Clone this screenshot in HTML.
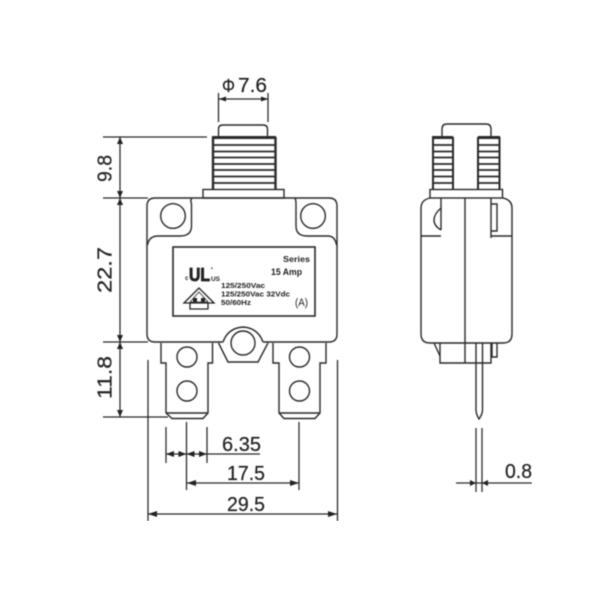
<!DOCTYPE html>
<html><head><meta charset="utf-8">
<style>html,body{margin:0;padding:0;background:#fff;width:600px;height:600px;overflow:hidden}svg{display:block}
text{font-family:"Liberation Sans",sans-serif;fill:#222}</style></head>
<body>
<svg width="600" height="600" viewBox="0 0 600 600" xmlns="http://www.w3.org/2000/svg">
<defs><filter id="b" x="0" y="0" width="100%" height="100%"><feGaussianBlur stdDeviation="0.4"/></filter></defs>
<rect width="600" height="600" fill="#fff"/>
<g filter="url(#b)">
<g fill="none" stroke="#2a2a2a" stroke-width="1.400">
<!-- left view button -->
<path d="M218.500 137V129Q218.500 125 223 125H263Q267.500 125 267.500 129V137"/>
<!-- thread -->
<path d="M213 137V189M275.500 137V189" stroke-width="2.400"/>
<path d="M212 137.500H276" stroke-width="3"/>
<path d="M213 145H276M213 151.500H276M213 157.500H276M213 164H276M213 170H276M213 176.500H276M213 183H276" stroke-width="1.800"/>
<rect x="203" y="189.500" width="81" height="8.500"/>
<!-- body -->
<path d="M192 198H155Q147 198 147 206V334Q147 342 155 342H223M263 342H329Q337 342 337 334V206Q337 198 329 198H295"/>
<path d="M192 198Q190 200 191.500 204V226Q191.500 236 180 236H158Q149 236 147.500 245"/>
<path d="M192 198H295" />
<path d="M295 198Q296 200 296 204V226Q296 236 307 236H328Q335 236 336.500 245"/>
<circle cx="173" cy="216" r="12.300"/><circle cx="313" cy="216" r="12.300"/>
<rect x="173" y="247" width="142" height="69" stroke-width="1.600"/>
<!-- nut -->
<path d="M223 342Q228 328 243 327Q258 328 263 342"/>
<path d="M218.500 343L228 362H258L268 343"/>
<circle cx="243" cy="343" r="12"/>
<!-- terminals -->
<path d="M161 343V363H166V413L172 418.500H203L208 413V363H212.500V343"/>
<path d="M166 413H208"/>
<circle cx="187" cy="357" r="10"/><circle cx="187" cy="391" r="10"/>
<path d="M273 343V363H279V413L284 418.500H315L320 413V363H326V343"/>
<path d="M279 413H320"/>
<circle cx="299.500" cy="357" r="10"/><circle cx="299.500" cy="391" r="10"/>
<!-- right view -->
<path d="M442 137V129Q442 124 447 124H486Q491 124 491 129V137"/>
<path d="M433 137V189M453 137V189M478 137V189M499.500 137V189" stroke-width="2"/>
<path d="M432 137.500H453M478 137.500H500" stroke-width="3"/>
<path d="M433 145H453M433 151.500H453M433 157.500H453M433 164H453M433 170H453M433 176.500H453M433 183H453M478 145H500M478 151.500H500M478 157.500H500M478 164H500M478 170H500M478 176.500H500M478 183H500" stroke-width="1.800"/>
<rect x="430" y="189.500" width="72.500" height="8.500"/>
<path d="M430 198Q421 200 421 208V334Q421 343 430 343H503Q512 343 512 334V208Q512 200 503 198"/>
<path d="M465 198V363M441 198V230M491 198V238"/>
<path d="M441 208Q434 214 434 220Q434 226 441 230"/>
<path d="M491 204H497V231H491"/>
<path d="M421 236H441M491 236H512"/>
<path d="M440 343V363H491V343"/>
<path d="M434 343L440 356M492 343V357H497V343"/>
<path d="M476 343V410Q476 414 479 419Q482.500 414 482.500 410V343"/>
</g>
<!-- dimension lines -->
<g fill="none" stroke="#2a2a2a" stroke-width="1.300">
<path d="M218.500 93V122M268 93V122M219 99H268"/>
<path d="M103 137H207M103 198H148M103 342H148M103 417H168M120 137V417"/>
<path d="M148 360V521M337.500 360V521M148 514H337.500"/>
<path d="M186.500 422V490M299 422V490M187 483H299"/>
<path d="M166 427V463M207 427V463M166 454H260"/>
<path d="M476 428V492M482 428V492M456 483H532"/>
</g>
<g fill="#222">
<path d="M219 99l7-2.500v5zM268 99l-7-2.500v5z"/>
<path d="M120 137l-3 7h6zM120 198l-3-7h6zM120 198l-3 7h6zM120 342l-3-7h6zM120 342l-3 7h6zM120 417l-3-7h6z"/>
<path d="M148 514l9-3v6zM337 514l-9-3v6z"/>
<path d="M187 483l9-3v6zM299 483l-9-3v6z"/>
<path d="M166 454l8-3v6zM186.500 454l-8-3v6zM186.500 454l8-3v6zM207 454l-8-3v6z"/>
<path d="M476 483l-6-3v6zM482 483l6-3v6z"/>
</g>
<!-- dimension text -->
<g font-size="20" stroke="#222" stroke-width="0.200">
<text x="222" y="92" font-size="18" textLength="13" lengthAdjust="spacingAndGlyphs">Φ</text>
<text x="238" y="92" textLength="29" lengthAdjust="spacingAndGlyphs">7.6</text>
<text x="222" y="451" textLength="39" lengthAdjust="spacingAndGlyphs">6.35</text>
<text x="227" y="480" textLength="38" lengthAdjust="spacingAndGlyphs">17.5</text>
<text x="227" y="511" textLength="38" lengthAdjust="spacingAndGlyphs">29.5</text>
<text x="505" y="478" textLength="27" lengthAdjust="spacingAndGlyphs">0.8</text>
<text transform="translate(111.500,182) rotate(-90)" textLength="27" lengthAdjust="spacingAndGlyphs">9.8</text>
<text transform="translate(111.500,293) rotate(-90)" textLength="46" lengthAdjust="spacingAndGlyphs">22.7</text>
<text transform="translate(111.500,399) rotate(-90)" textLength="43" lengthAdjust="spacingAndGlyphs">11.8</text>
</g>
<!-- label text -->
<g font-weight="bold">
<text x="283" y="262" font-size="8.500" textLength="27" lengthAdjust="spacingAndGlyphs">Series</text>
<text x="271" y="275" font-size="9.500" textLength="31" lengthAdjust="spacingAndGlyphs">15 Amp</text>
<text x="221" y="288" font-size="7" textLength="44" lengthAdjust="spacingAndGlyphs">125/250Vac</text>
<text x="221" y="296.500" font-size="7" textLength="69" lengthAdjust="spacingAndGlyphs">125/250Vac 32Vdc</text>
<text x="221" y="305" font-size="7" textLength="30" lengthAdjust="spacingAndGlyphs">50/60Hz</text>
<text x="295" y="306" font-size="11" font-weight="normal" textLength="13" lengthAdjust="spacingAndGlyphs">(A)</text>
<text x="185" y="280" font-size="6">c</text>
<text x="189" y="281" font-size="18" textLength="21" lengthAdjust="spacingAndGlyphs" stroke="#222" stroke-width="0.800">UL</text>
<text x="211" y="281" font-size="6.500" textLength="9" lengthAdjust="spacingAndGlyphs">US</text>
<text x="211" y="270" font-size="5">•</text>
</g>
<g fill="none" stroke="#222" stroke-width="1.300">
<path d="M199 288L184 303H214Z"/>
<path d="M190 303V309H208V303"/>
<path d="M199 292L190 302H208Z" stroke-width="0.800"/>
</g>
<g fill="#222"><rect x="193" y="298" width="4" height="4"/><rect x="201" y="298" width="4" height="4"/></g>
</g>
</svg>
</body></html>
